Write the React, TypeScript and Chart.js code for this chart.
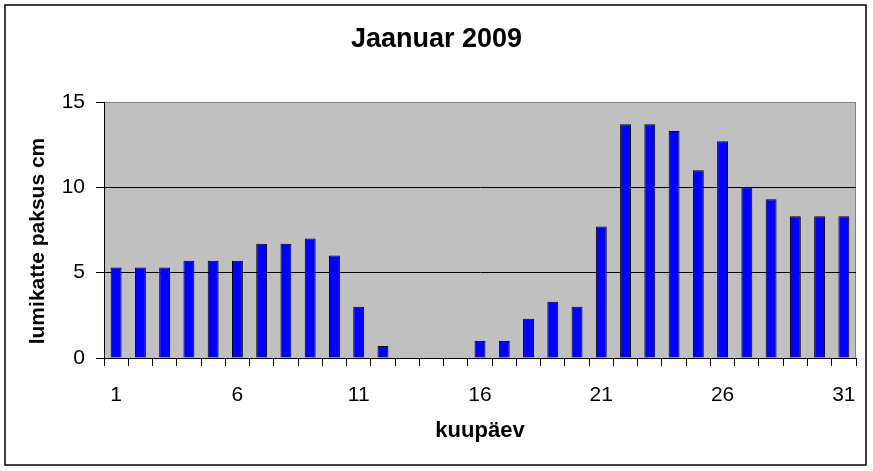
import React, { useEffect, useRef } from "react";
import { Chart, registerables } from "chart.js";
import type { Plugin } from "chart.js";

Chart.register(...registerables);

const days = [
  "1", "2", "3", "4", "5", "6", "7", "8", "9", "10", "11", "12", "13", "14", "15", "16",
  "17", "18", "19", "20", "21", "22", "23", "24", "25", "26", "27", "28", "29", "30", "31",
];
const snowDepth = [
  5.3, 5.3, 5.3, 5.7, 5.7, 5.7, 6.7, 6.7, 7.0, 6.0, 3.0, 0.7, 0, 0, 0, 1.0,
  1.0, 2.3, 3.3, 3.0, 7.7, 13.7, 13.7, 13.3, 11.0, 12.7, 10.0, 9.3, 8.3, 8.3, 8.3,
];
const shownDayLabels = ["1", "6", "11", "16", "21", "26", "31"];
const yTicks = [0, 5, 10, 15];

const chartTitle = "Jaanuar 2009";
const xTitle = "kuupäev";
const yTitle = "lumikatte paksus cm";

const FONT = "Arial, 'Liberation Sans', sans-serif";

// fondi hall taust, raam ja y-telje pealkiri
const frame: Plugin<"bar"> = {
  id: "frame",
  beforeDraw(chart) {
    const { ctx, chartArea: a } = chart;
    ctx.save();
    ctx.fillStyle = "#ffffff";
    ctx.fillRect(0, 0, chart.width, chart.height);
    ctx.strokeStyle = "#000000";
    ctx.lineWidth = 1.5;
    ctx.strokeRect(5, 5, 861, 460);
    ctx.fillStyle = "#c0c0c0";
    ctx.fillRect(a.left, a.top, a.right - a.left, a.bottom - a.top);
    ctx.strokeStyle = "#808080";
    ctx.lineWidth = 1;
    ctx.beginPath();
    ctx.moveTo(a.left, a.top + 0.5);
    ctx.lineTo(a.right - 0.5, a.top + 0.5);
    ctx.lineTo(a.right - 0.5, a.bottom);
    ctx.stroke();
    ctx.restore();
  },
  afterDraw(chart) {
    const { ctx } = chart;
    ctx.save();
    ctx.translate(38.5, 241);
    ctx.rotate(-Math.PI / 2);
    ctx.font = `bold 21px ${FONT}`;
    ctx.fillStyle = "#000000";
    ctx.textAlign = "center";
    ctx.textBaseline = "middle";
    ctx.fillText(yTitle, 0, 0);
    ctx.restore();
  },
};

export default function App() {
  const canvasRef = useRef<HTMLCanvasElement | null>(null);

  useEffect(() => {
    if (!canvasRef.current) return;
    const chart = new Chart(canvasRef.current, {
      type: "bar",
      data: {
        labels: days,
        datasets: [
          {
            data: snowDepth,
            backgroundColor: "#0000ff",
            borderColor: "#000000",
            borderWidth: 1,
            borderSkipped: "start",
            barPercentage: 0.45,
            categoryPercentage: 1,
          },
        ],
      },
      options: {
        responsive: false,
        animation: false,
        devicePixelRatio: 1,
        layout: { padding: { left: 17, right: 17, top: 0, bottom: 0 } },
        plugins: {
          legend: { display: false },
          tooltip: { enabled: false },
          title: {
            display: true,
            text: chartTitle,
            color: "#000000",
            font: { family: FONT, size: 27, weight: "bold", lineHeight: 1.2 },
            padding: { top: 23.4, bottom: 46.2 },
          },
        },
        scales: {
          x: {
            grid: {
              offset: true,
              drawOnChartArea: false,
              drawTicks: true,
              tickLength: 8,
              color: "#000000",
            },
            border: { color: "#000000", width: 1 },
            ticks: {
              autoSkip: false,
              maxRotation: 0,
              padding: 17,
              color: "#000000",
              font: { family: FONT, size: 21, lineHeight: 1.2 },
              callback: (_v, i) => (shownDayLabels.includes(days[i]) ? days[i] : ""),
            },
            title: {
              display: true,
              text: xTitle,
              color: "#000000",
              font: { family: FONT, size: 22, weight: "bold", lineHeight: 1.2 },
              padding: { top: 0, bottom: 26.6 },
            },
            afterFit: (scale) => {
              scale.height = 113;
            },
          },
          y: {
            min: yTicks[0],
            max: yTicks[yTicks.length - 1],
            grid: {
              color: (c) => (c.tick && c.tick.value === 15 ? "#808080" : "#000000"),
              tickColor: "#000000",
              tickLength: 8,
              lineWidth: 1,
            },
            border: { color: "#000000", width: 1 },
            ticks: {
              stepSize: 5,
              padding: 11,
              color: "#000000",
              font: { family: FONT, size: 21, lineHeight: 1.2 },
            },
            afterFit: (scale) => {
              scale.width = 87;
            },
          },
        },
      },
      plugins: [frame],
    });
    return () => chart.destroy();
  }, []);

  return (
    <div style={{ position: "absolute", left: 0, top: 0, width: 873, height: 471 }}>
      <canvas ref={canvasRef} width={873} height={471} />
    </div>
  );
}
